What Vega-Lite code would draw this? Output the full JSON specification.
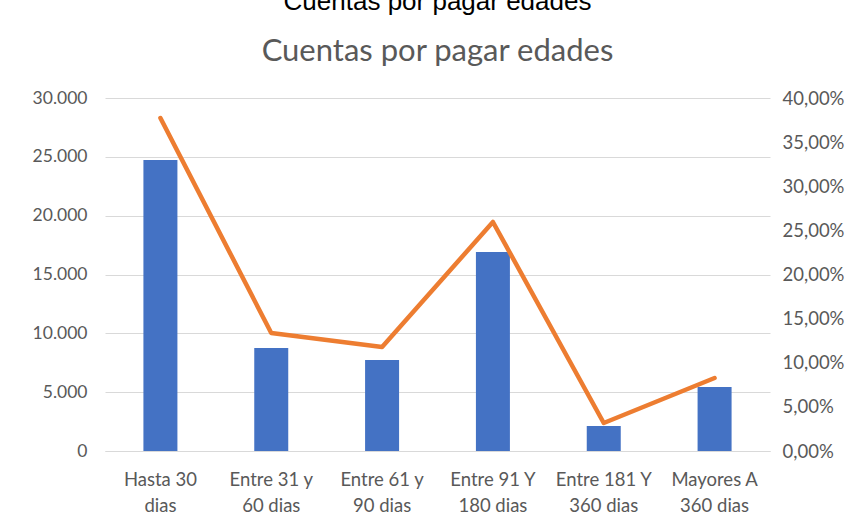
{
  "$schema": "https://vega.github.io/schema/vega-lite/v6.json",
  "autosize": "none",
  "width": 665,
  "height": 353,
  "padding": {"left": 105, "top": 98, "right": 93, "bottom": 76},
  "background": "white",
  "config": {
    "locale": {"number": {"decimal": ",", "thousands": ".", "grouping": [3], "currency": ["", " €"]}},
    "view": {"stroke": null},
    "font": "Lato"
  },
  "title": {
    "text": "Cuentas por pagar edades",
    "subtitle": "Cuentas por pagar edades",
    "font": "Liberation Sans",
    "fontSize": 26,
    "fontWeight": "normal",
    "color": "#000000",
    "subtitleFont": "Lato",
    "subtitleFontSize": 31,
    "subtitleColor": "#595959",
    "subtitlePadding": 22,
    "anchor": "middle",
    "offset": 22
  },
  "data": {
    "values": [
      {"rango": "Hasta 30|dias", "valor": 24730, "pct": 0.3773},
      {"rango": "Entre 31 y|60 dias", "valor": 8750, "pct": 0.1337},
      {"rango": "Entre 61 y|90 dias", "valor": 7730, "pct": 0.1178},
      {"rango": "Entre 91 Y|180 dias", "valor": 16910, "pct": 0.2595},
      {"rango": "Entre 181  Y|360 dias", "valor": 2125, "pct": 0.0317},
      {"rango": "Mayores A|360 dias", "valor": 5440, "pct": 0.0827}
    ]
  },
  "encoding": {
    "x": {
      "field": "rango",
      "type": "nominal",
      "sort": null,
      "scale": {"paddingInner": 0, "paddingOuter": 0},
      "axis": {
        "title": null,
        "labelAngle": 0,
        "labelExpr": "split(datum.label, '|')",
        "labelFontSize": 18.5,
        "labelColor": "#595959",
        "labelLineHeight": 26,
        "labelPadding": 19,
        "ticks": false,
        "domainColor": "#d9d9d9",
        "domainWidth": 1
      }
    }
  },
  "layer": [
    {
      "mark": {"type": "bar", "size": 34, "color": "#4472C4"},
      "encoding": {
        "y": {
          "field": "valor",
          "type": "quantitative",
          "scale": {"domain": [0, 30000], "nice": false},
          "axis": {
            "title": null,
            "values": [0, 5000, 10000, 15000, 20000, 25000, 30000],
            "format": ",.0f",
            "labelFontSize": 17.5,
            "labelColor": "#595959",
            "labelPadding": 18,
            "ticks": false,
            "domain": false,
            "gridColor": "#d9d9d9",
            "gridWidth": 1
          }
        }
      }
    },
    {
      "mark": {"type": "line", "color": "#ED7D31", "strokeWidth": 4.5, "strokeCap": "round", "strokeJoin": "round"},
      "encoding": {
        "y": {
          "field": "pct",
          "type": "quantitative",
          "scale": {"domain": [0, 0.4], "nice": false},
          "axis": {
            "orient": "right",
            "title": null,
            "values": [0, 0.05, 0.1, 0.15, 0.2, 0.25, 0.3, 0.35, 0.4],
            "format": ".2%",
            "labelFontSize": 18.5,
            "labelColor": "#595959",
            "labelPadding": 12,
            "ticks": false,
            "domain": false,
            "grid": false
          }
        }
      }
    }
  ],
  "resolve": {"scale": {"y": "independent"}}
}
